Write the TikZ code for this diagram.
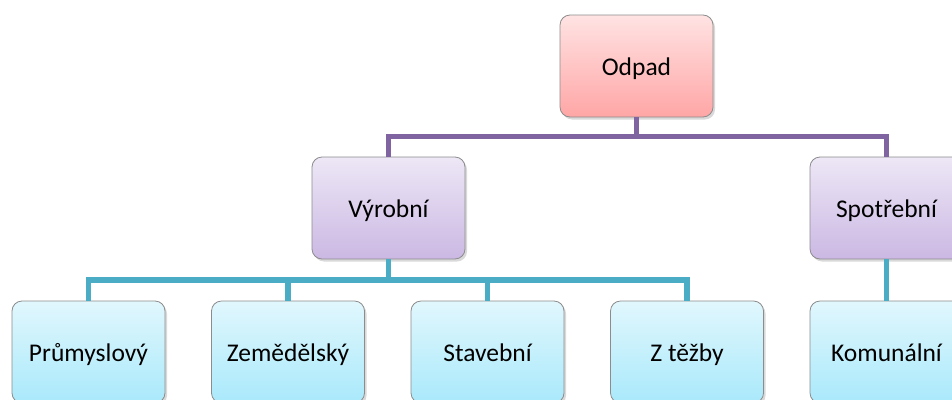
\documentclass[tikz,border=0pt]{standalone}
\usepackage{fontspec}
\setmainfont{Carlito}
\usetikzlibrary{shadows}
\definecolor{linkpurple}{HTML}{8064A2}
\definecolor{linkcyan}{HTML}{4BACC6}
\tikzset{%
  cbox/.style={draw=black!45,line width=0.8pt,rounded corners=10pt,minimum width=153pt,minimum height=102pt,
    inner sep=0,text height=23pt,text depth=5pt,font=\fontsize{25.5}{30}\selectfont,
    drop shadow={opacity=0.3,shadow xshift=2pt,shadow yshift=-2.5pt}},
  rootbox/.style={cbox,top color=red!11,bottom color=red!35},
  midbox/.style={cbox,top color={rgb,255:red,237;green,231;blue,246},bottom color={rgb,255:red,203;green,184;blue,227}},
  leafbox/.style={cbox,top color={rgb,255:red,225;green,247;blue,253},bottom color={rgb,255:red,169;green,233;blue,251}},
  plink/.style={draw=linkpurple,line width=5.5pt},
  clink/.style={draw=linkcyan,line width=5.5pt}
}
\begin{document}
\begin{tikzpicture}[x=1pt,y=-1pt]
    \useasboundingbox (0,0) rectangle (952,399);
    \clip (0,0) rectangle (952,399);
    \node[rootbox] (odpad) at (636.5,66) {Odpad};
    \node[midbox] (vyrobni) at (388.5,208) {Výrobní};
    \node[midbox] (spotrebni) at (886.5,208) {Spotřební};
    \node[leafbox] (prumyslovy) at (88.5,352) {Průmyslový};
    \node[leafbox] (zemedelsky) at (288,352) {Zemědělský};
    \node[leafbox] (stavebni) at (487.5,352) {Stavební};
    \node[leafbox] (ztezby) at (687,352) {Z těžby};
    \node[leafbox] (komunalni) at (886.5,352) {Komunální};
    \draw[plink] (odpad.south) -- ++(0,19) -| (vyrobni.north);
    \draw[plink] (odpad.south) -- ++(0,19) -| (spotrebni.north);
    \draw[clink] (vyrobni.south) -- ++(0,20.5) -| (prumyslovy.north);
    \draw[clink] (vyrobni.south) -- ++(0,20.5) -| (zemedelsky.north);
    \draw[clink] (vyrobni.south) -- ++(0,20.5) -| (stavebni.north);
    \draw[clink] (vyrobni.south) -- ++(0,20.5) -| (ztezby.north);
    \draw[clink] (spotrebni.south) -- (komunalni.north);
  \end{tikzpicture}
\end{document}
